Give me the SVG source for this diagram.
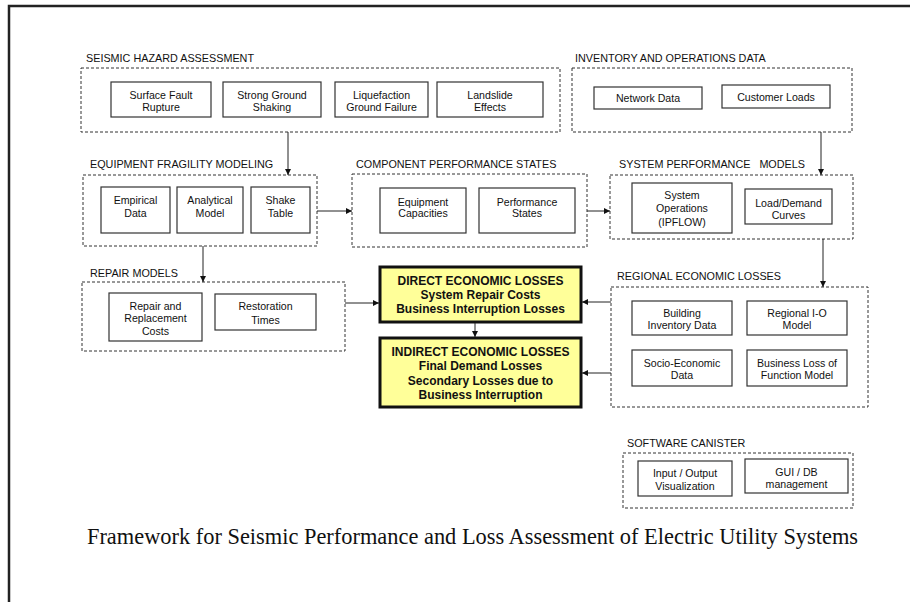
<svg xmlns="http://www.w3.org/2000/svg" width="910" height="602" viewBox="0 0 910 602">
<defs>
<marker id="ah" viewBox="0 0 8 8" refX="8" refY="4" markerWidth="6" markerHeight="6" markerUnits="userSpaceOnUse" orient="auto">
<path d="M0,0 L8,4 L0,8 Z" fill="#111"/>
</marker>
<style>
.grp{fill:none;stroke:#333;stroke-width:1;stroke-dasharray:3,2}
.box{fill:#fff;stroke:#333;stroke-width:1.2}
.yel{fill:#ffff99;stroke:#111;stroke-width:3}
.ttl{font-family:"Liberation Sans",Arial,sans-serif;font-size:10.8px;fill:#111;white-space:pre}
.t{font-family:"Liberation Sans",Arial,sans-serif;font-size:10.6px;fill:#111;text-anchor:middle}
.b{font-family:"Liberation Sans",Arial,sans-serif;font-size:12px;font-weight:bold;fill:#111;text-anchor:middle}
.con{fill:none;stroke:#222;stroke-width:1;marker-end:url(#ah)}
.cap{font-family:"Liberation Serif","Times New Roman",serif;font-size:22.4px;fill:#111;text-anchor:middle}
</style>
</defs>
<rect width="910" height="602" fill="#fff"/>
<path d="M9,602 V6 H910" fill="none" stroke="#222" stroke-width="2.5"/>

<g id="seismic">
<text class="ttl" x="86" y="62">SEISMIC HAZARD ASSESSMENT</text>
<rect class="grp" x="81" y="68" width="479" height="64"/>
<rect class="box" x="111" y="82" width="100" height="35"/>
<text class="t" x="161" y="99">Surface Fault</text><text class="t" x="161" y="111">Rupture</text>
<rect class="box" x="223" y="82" width="98" height="35"/>
<text class="t" x="272" y="99">Strong Ground</text><text class="t" x="272" y="111">Shaking</text>
<rect class="box" x="335" y="82" width="93" height="35"/>
<text class="t" x="381.5" y="99">Liquefaction</text><text class="t" x="381.5" y="111">Ground Failure</text>
<rect class="box" x="437" y="82" width="106" height="35"/>
<text class="t" x="490" y="99">Landslide</text><text class="t" x="490" y="111">Effects</text>
</g>

<g id="inventory">
<text class="ttl" x="575" y="62">INVENTORY AND OPERATIONS DATA</text>
<rect class="grp" x="572" y="68" width="280" height="64"/>
<rect class="box" x="594" y="87" width="108" height="22"/>
<text class="t" x="648" y="102">Network Data</text>
<rect class="box" x="722" y="85" width="108" height="23"/>
<text class="t" x="776" y="100.5">Customer Loads</text>
</g>

<g id="fragility">
<text class="ttl" x="90" y="168">EQUIPMENT FRAGILITY MODELING</text>
<rect class="grp" x="83" y="175" width="234" height="71"/>
<rect class="box" x="101" y="187" width="69" height="46"/>
<text class="t" x="135.5" y="204">Empirical</text><text class="t" x="135.5" y="217">Data</text>
<rect class="box" x="177" y="187" width="66" height="46"/>
<text class="t" x="210" y="204">Analytical</text><text class="t" x="210" y="217">Model</text>
<rect class="box" x="251" y="187" width="59" height="46"/>
<text class="t" x="280.5" y="204">Shake</text><text class="t" x="280.5" y="217">Table</text>
</g>

<g id="component">
<text class="ttl" x="356" y="168">COMPONENT PERFORMANCE STATES</text>
<rect class="grp" x="352" y="174" width="235" height="73"/>
<rect class="box" x="380" y="188" width="86" height="45"/>
<text class="t" x="423" y="206">Equipment</text><text class="t" x="423" y="217">Capacities</text>
<rect class="box" x="479" y="188" width="96" height="45"/>
<text class="t" x="527" y="206">Performance</text><text class="t" x="527" y="217">States</text>
</g>

<g id="system">
<text class="ttl" x="619" y="168">SYSTEM PERFORMANCE   MODELS</text>
<rect class="grp" x="610" y="175" width="243" height="64"/>
<rect class="box" x="632" y="183" width="100" height="50"/>
<text class="t" x="682" y="199">System</text><text class="t" x="682" y="212">Operations</text><text class="t" x="682" y="226">(IPFLOW)</text>
<rect class="box" x="745" y="189" width="87" height="35"/>
<text class="t" x="788.5" y="207">Load/Demand</text><text class="t" x="788.5" y="218.5">Curves</text>
</g>

<g id="repair">
<text class="ttl" x="90" y="277">REPAIR MODELS</text>
<rect class="grp" x="82" y="282" width="263" height="69"/>
<rect class="box" x="109" y="293" width="93" height="48"/>
<text class="t" x="155.5" y="310">Repair and</text><text class="t" x="155.5" y="322">Replacement</text><text class="t" x="155.5" y="335">Costs</text>
<rect class="box" x="215" y="294" width="101" height="36"/>
<text class="t" x="265.5" y="310">Restoration</text><text class="t" x="265.5" y="324">Times</text>
</g>

<g id="direct">
<rect class="yel" x="380" y="267" width="201" height="55"/>
<text class="b" x="480.5" y="285">DIRECT ECONOMIC LOSSES</text>
<text class="b" x="480.5" y="299">System Repair Costs</text>
<text class="b" x="480.5" y="313">Business Interruption Losses</text>
</g>

<g id="indirect">
<rect class="yel" x="380" y="338" width="201" height="69"/>
<text class="b" x="480.5" y="356">INDIRECT ECONOMIC LOSSES</text>
<text class="b" x="480.5" y="370">Final Demand Losses</text>
<text class="b" x="480.5" y="385">Secondary Losses due to</text>
<text class="b" x="480.5" y="399">Business Interruption</text>
</g>

<g id="regional">
<text class="ttl" x="617" y="280">REGIONAL ECONOMIC LOSSES</text>
<rect class="grp" x="611" y="287" width="257" height="120"/>
<rect class="box" x="632" y="301" width="100" height="34"/>
<text class="t" x="682" y="317">Building</text><text class="t" x="682" y="329">Inventory Data</text>
<rect class="box" x="747" y="301" width="100" height="34"/>
<text class="t" x="797" y="317">Regional I-O</text><text class="t" x="797" y="329">Model</text>
<rect class="box" x="632" y="350" width="100" height="36"/>
<text class="t" x="682" y="367">Socio-Economic</text><text class="t" x="682" y="379">Data</text>
<rect class="box" x="747" y="350" width="100" height="36"/>
<text class="t" x="797" y="367">Business Loss of</text><text class="t" x="797" y="379">Function Model</text>
</g>

<g id="software">
<text class="ttl" x="627" y="447">SOFTWARE CANISTER</text>
<rect class="grp" x="623" y="453" width="230" height="55"/>
<rect class="box" x="638" y="461" width="94" height="35"/>
<text class="t" x="685" y="477">Input / Output</text><text class="t" x="685" y="490">Visualization</text>
<rect class="box" x="745" y="459" width="103" height="34"/>
<text class="t" x="796.5" y="476">GUI / DB</text><text class="t" x="796.5" y="488">management</text>
</g>

<g id="connectors">
<path class="con" d="M288,132 V175"/>
<path class="con" d="M821,132 V175"/>
<path class="con" d="M317,211 H352"/>
<path class="con" d="M587,211 H610"/>
<path class="con" d="M203,246 V282"/>
<path class="con" d="M823,239 V287"/>
<path class="con" d="M345,303 H379"/>
<path class="con" d="M611,302 H582"/>
<path class="con" d="M611,373 H582"/>
<path class="con" d="M475,323 V337"/>
</g>

<text class="cap" x="472.5" y="544">Framework for Seismic Performance and Loss Assessment of Electric Utility Systems</text>
</svg>
